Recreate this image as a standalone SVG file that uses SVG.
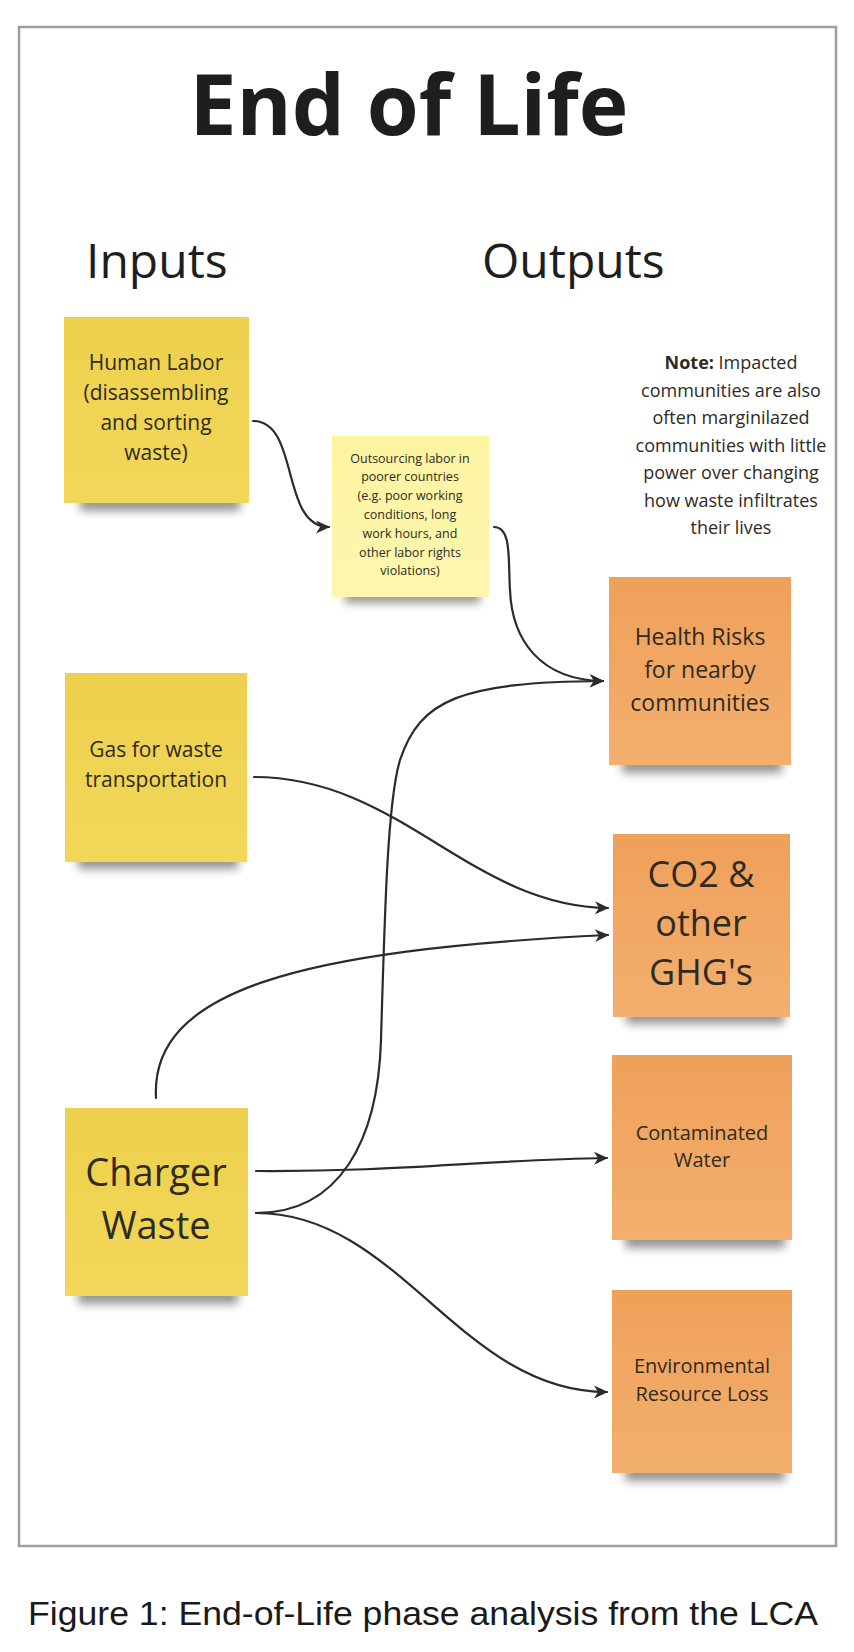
<svg xmlns="http://www.w3.org/2000/svg" width="854" height="1652" viewBox="0 0 854 1652">
<style>
.t{font-family:"Open Sans","Noto Sans",sans-serif;fill:#2e2b22;text-anchor:middle}
.h{font-family:"Open Sans","Noto Sans",sans-serif;fill:#1e1e1e}
.c{fill:none;stroke:#2b2b2b;stroke-width:2.2;stroke-linecap:round;marker-end:url(#ah)}
.sh{fill:#000;opacity:0.42;filter:url(#blur)}
</style>
<defs>
<filter id="blur" x="-20%" y="-100%" width="140%" height="300%"><feGaussianBlur stdDeviation="5"/></filter>
<linearGradient id="gy" x1="0" y1="0" x2="0" y2="1"><stop offset="0" stop-color="#EDD04C"/><stop offset="1" stop-color="#F2D75A"/></linearGradient>
<linearGradient id="gl" x1="0" y1="0" x2="0" y2="1"><stop offset="0" stop-color="#FDF4A2"/><stop offset="1" stop-color="#FEF6AE"/></linearGradient>
<linearGradient id="go" x1="0" y1="0" x2="0" y2="1"><stop offset="0" stop-color="#EFA059"/><stop offset="1" stop-color="#F3AF6F"/></linearGradient>
<marker id="ah" markerUnits="userSpaceOnUse" viewBox="0 0 16 16" markerWidth="16" markerHeight="16" refX="14" refY="8" orient="auto">
<path d="M1,1.5 L15,8 L1,14.5 L5,8 Z" fill="#2b2b2b"/>
</marker>
</defs>
<rect x="0" y="0" width="854" height="1652" fill="#fff"/>
<rect x="19" y="27" width="817" height="1519" fill="#fff" stroke="#9e9e9e" stroke-width="2.5"/>

<g id="title"><text class="h" x="409" y="135" font-size="84" font-weight="700" text-anchor="middle">End of Life</text></g>
<g id="inputs-label"><text class="h" x="86" y="278" font-size="48">Inputs</text></g>
<g id="outputs-label"><text class="h" x="482" y="278" font-size="48">Outputs</text></g>

<g id="human-labor">
<rect class="sh" x="80" y="495" width="160" height="16"/>
<rect x="64" y="317" width="185" height="186" fill="url(#gy)"/>
<text class="t" font-size="21"><tspan x="156" y="370">Human Labor</tspan><tspan x="156" y="400">(disassembling</tspan><tspan x="156" y="430">and sorting</tspan><tspan x="156" y="460">waste)</tspan></text>
</g>

<g id="outsourcing">
<rect class="sh" x="345" y="589" width="135" height="14"/>
<rect x="332" y="436" width="157" height="161" fill="url(#gl)"/>
<text class="t" font-size="12.5"><tspan x="410" y="462.5">Outsourcing labor in</tspan><tspan x="410" y="481.3">poorer countries</tspan><tspan x="410" y="500.1">(e.g. poor working</tspan><tspan x="410" y="518.9">conditions, long</tspan><tspan x="410" y="537.7">work hours, and</tspan><tspan x="410" y="556.5">other labor rights</tspan><tspan x="410" y="575.3">violations)</tspan></text>
</g>

<g id="note">
<text class="t" font-size="18" fill="#3a3a3a"><tspan x="731" y="369"><tspan font-weight="700">Note:</tspan> Impacted</tspan><tspan x="731" y="396.5">communities are also</tspan><tspan x="731" y="424">often marginilazed</tspan><tspan x="731" y="451.5">communities with little</tspan><tspan x="731" y="479">power over changing</tspan><tspan x="731" y="506.5">how waste infiltrates</tspan><tspan x="731" y="534">their lives</tspan></text>
</g>

<g id="gas">
<rect class="sh" x="78" y="853" width="160" height="16"/>
<rect x="65" y="673" width="182" height="189" fill="url(#gy)"/>
<text class="t" font-size="21"><tspan x="156" y="757">Gas for waste</tspan><tspan x="156" y="787">transportation</tspan></text>
</g>

<g id="charger-waste">
<rect class="sh" x="78" y="1288" width="160" height="16"/>
<rect x="65" y="1108" width="183" height="188" fill="url(#gy)"/>
<text class="t" font-size="38"><tspan x="156" y="1186">Charger</tspan><tspan x="156" y="1239">Waste</tspan></text>
</g>

<g id="health-risks">
<rect class="sh" x="622" y="757" width="160" height="16"/>
<rect x="609" y="577" width="182" height="188" fill="url(#go)"/>
<text class="t" font-size="23"><tspan x="700" y="645">Health Risks</tspan><tspan x="700" y="678">for nearby</tspan><tspan x="700" y="711">communities</tspan></text>
</g>

<g id="co2">
<rect class="sh" x="626" y="1008" width="158" height="16"/>
<rect x="613" y="834" width="177" height="183" fill="url(#go)"/>
<text class="t" font-size="36"><tspan x="701" y="887">CO2 &amp;</tspan><tspan x="701" y="936">other</tspan><tspan x="701" y="985">GHG's</tspan></text>
</g>

<g id="contaminated-water">
<rect class="sh" x="625" y="1232" width="160" height="16"/>
<rect x="612" y="1055" width="180" height="185" fill="url(#go)"/>
<text class="t" font-size="20"><tspan x="702" y="1140">Contaminated</tspan><tspan x="702" y="1167">Water</tspan></text>
</g>

<g id="environmental-loss">
<rect class="sh" x="625" y="1465" width="160" height="16"/>
<rect x="612" y="1290" width="180" height="183" fill="url(#go)"/>
<text class="t" font-size="20"><tspan x="702" y="1373">Environmental</tspan><tspan x="702" y="1401">Resource Loss</tspan></text>
</g>

<g id="connectors">
<path class="c" d="M253,421 C300,421 280,527 329,527"/>
<path class="c" d="M494,527 C512,527 508,560 510,590 C512,640 540,680 603,681"/>
<path class="c" d="M254,777 C400,777 470,906 608,908"/>
<path class="c" d="M156,1098 C150,990 300,950 608,935"/>
<path class="c" d="M256,1213 C340,1213 378,1140 381,1040 C385,900 388,800 400,760 C420,700 460,682 603,681"/>
<path class="c" d="M256,1171 C400,1172 480,1160 607,1158"/>
<path class="c" d="M256,1213 C400,1213 460,1392 607,1392"/>
</g>

<g id="caption"><text x="28" y="1625" font-family="'Liberation Sans',Arial,sans-serif" font-size="34" fill="#1a1a1a" textLength="790" lengthAdjust="spacingAndGlyphs">Figure 1: End-of-Life phase analysis from the LCA</text></g>
</svg>
